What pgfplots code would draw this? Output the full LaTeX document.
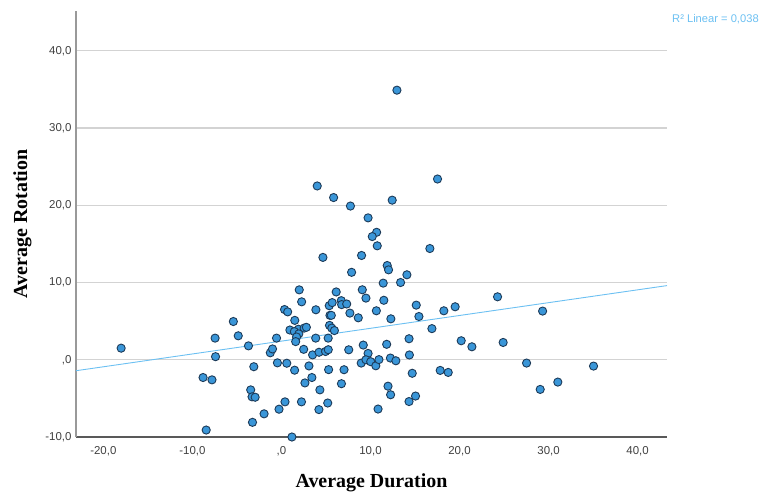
\documentclass[border=0pt]{standalone}
\usepackage{pgfplots}
\pgfplotsset{compat=1.18}
\usepackage{fontspec}
\setmainfont{Liberation Sans}
\newfontfamily\titlefont{Liberation Serif}
\definecolor{ptfill}{HTML}{3A96D8}
\definecolor{ptedge}{HTML}{1C3A58}
\definecolor{fitcol}{HTML}{6CC0F2}
\definecolor{gridcol}{HTML}{D3D3D3}
\definecolor{tickcol}{HTML}{404040}
\begin{document}
\begin{tikzpicture}
\useasboundingbox (-76bp,-57bp) rectangle (687bp,437bp);
\begin{axis}[
  at={(0,0)}, anchor=south west,
  scale only axis,
  width=591bp, height=426bp,
  xmin=-23.07, xmax=43.3,
  ymin=-10, ymax=45.15,
  axis lines*=left,
  x axis line style={draw=black!65, line width=1.3bp},
  y axis line style={draw=black!40, line width=1.5bp},
  xtick={-20,-10,0,10,20,30,40},
  xticklabels={{-20,0},{-10,0},{,0},{10,0},{20,0},{30,0},{40,0}},
  ytick={-10,0,10,20,30,40},
  yticklabels={{-10,0},{,0},{10,0},{20,0},{30,0},{40,0}},
  major tick length=0pt,
  tick label style={font=\fontsize{11.5}{13}\selectfont, text=tickcol},
  xticklabel style={yshift=-6bp},
  yticklabel style={xshift=-1bp},
  ymajorgrids,
  grid style={draw=gridcol, line width=1.3bp},
  xlabel={\titlefont\bfseries Average Duration},
  ylabel={\titlefont\bfseries Average Rotation},
  label style={font=\fontsize{20}{24}\selectfont},
  x label style={at={(axis description cs:0.5,-0.1197)}, anchor=base},
  y label style={at={(axis description cs:-0.0829,0.5)}, anchor=base, rotate=0},
  clip=false,
]
\addplot[fitcol, line width=0.9bp] coordinates {(-23.07,-1.42) (43.3,9.6)};
\addplot[only marks, mark=*, mark size=4.1bp,
  mark options={fill=ptfill, draw=ptedge, line width=0.9bp}] table {
x y
-18.0 1.5
-8.8 -2.3
-7.8 -2.6
-7.45 2.8
-7.4 0.4
-8.45 -9.1
-5.4 4.95
-4.85 3.1
-3.7 1.8
-3.1 -0.9
-3.45 -3.9
-3.3 -4.8
-2.95 -4.85
-3.25 -8.1
-1.95 -7.0
-1.25 0.9
-1.0 1.4
-0.55 2.8
-0.45 -0.4
-0.27 -6.4
0.4 -5.45
0.35 6.5
0.7 6.2
0.6 -0.45
1.18 -10.0
0.95 3.85
1.5 5.1
1.9 3.95
2.55 4.1
2.8 4.2
1.45 3.65
1.95 3.35
1.7 2.95
1.6 2.35
1.48 -1.35
2.0 9.05
2.27 7.5
2.5 1.35
2.64 -3.0
2.25 -5.45
3.09 -0.8
3.42 -2.3
3.5 0.63
3.87 6.47
3.85 2.8
4.22 0.97
4.32 -3.9
4.21 -6.45
4.66 13.25
4.95 1.07
5.26 1.3
5.2 -5.6
5.25 2.8
5.3 -1.28
5.37 7.0
5.45 5.75
5.6 5.75
5.4 4.45
5.65 4.1
5.95 3.78
5.7 7.4
6.15 8.78
6.72 7.65
6.76 7.14
7.33 7.22
7.69 6.04
7.03 -1.29
6.74 -3.1
7.56 1.29
7.88 11.32
9.0 13.5
8.63 5.43
9.08 9.06
9.49 7.98
9.19 1.9
9.73 0.82
8.96 -0.43
9.49 0.0
10.02 -0.25
10.6 -0.78
10.95 0.02
10.66 6.34
10.85 -6.38
16.67 14.4
11.88 12.2
12.03 11.64
14.09 11.0
11.43 9.92
13.38 10.0
11.5 7.7
15.14 7.07
15.44 5.6
12.29 5.3
18.24 6.34
19.51 6.86
24.27 8.15
29.33 6.3
16.9 4.03
14.33 2.72
11.82 2.0
20.19 2.46
21.39 1.68
24.9 2.24
14.37 0.62
12.24 0.22
12.85 -0.13
27.53 -0.43
35.05 -0.82
14.69 -1.75
17.83 -1.38
18.73 -1.64
11.97 -3.42
12.26 -4.53
15.06 -4.7
14.33 -5.41
29.06 -3.84
31.04 -2.89
4.02 22.5
5.86 21.0
7.75 19.9
9.73 18.37
10.69 16.5
10.2 15.95
10.76 14.75
12.97 34.9
17.53 23.4
12.44 20.66
};
\node[anchor=west, xshift=5bp, yshift=-8bp, text=fitcol, font=\fontsize{11.2}{13}\selectfont, inner sep=0pt] at (rel axis cs:1,1) {R² Linear = 0,038};
\end{axis}
\end{tikzpicture}
\end{document}
